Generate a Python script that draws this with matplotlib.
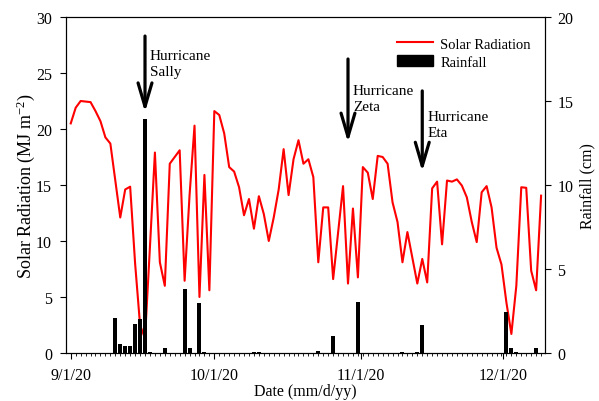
import numpy as np
import pandas as pd
import matplotlib
matplotlib.use("Agg")
import matplotlib.pyplot as plt
import matplotlib.dates as mdates
from matplotlib.lines import Line2D
from matplotlib.patches import Patch

plt.rcParams['font.family'] = ['Liberation Serif', 'DejaVu Serif']
plt.rcParams['mathtext.fontset'] = 'custom'
plt.rcParams['mathtext.rm'] = 'Liberation Serif'
plt.rcParams['mathtext.it'] = 'Liberation Serif:italic'

# daily solar radiation, 9/1/20 - 12/5/20 (MJ m-2)
start_date = '2020-09-01'
solar = [20.5, 21.9, 22.5, 22.45, 22.4, 21.6, 20.7, 19.25, 18.7, 15.4,
         12.1, 14.6, 14.85, 8.0, 2.5, 1.3, 9.5, 17.9, 8.1, 6.0,
         16.9, 17.5, 18.1, 6.45, 14.1, 20.3, 5.0, 15.9, 5.6, 21.6,
         21.25, 19.6, 16.6, 16.2, 14.8, 12.3, 13.75, 11.1, 14.0, 12.4,
         10.0, 12.1, 14.6, 18.2, 14.1, 17.3, 19.0, 16.9, 17.3, 15.7,
         8.1, 13.0, 13.0, 6.6, 10.75, 14.9, 6.2, 12.9, 6.75, 16.6,
         16.1, 13.75, 17.6, 17.5, 16.9, 13.45, 11.7, 8.1, 10.8, 8.5,
         6.2, 8.4, 6.3, 14.7, 15.3, 9.7, 15.4, 15.3, 15.5, 14.95,
         13.9, 11.7, 9.9, 14.35, 14.9, 13.0, 9.4, 7.9, 4.5, 1.7,
         6.0, 14.8, 14.75, 7.35, 5.6, 14.05]

# rainfall (cm)
rain_dates = ['2020-09-10', '2020-09-11', '2020-09-12', '2020-09-13', '2020-09-14',
              '2020-09-15', '2020-09-16', '2020-09-17', '2020-09-20', '2020-09-24',
              '2020-09-25', '2020-09-27', '2020-09-28', '2020-10-08', '2020-10-09',
              '2020-10-21', '2020-10-24', '2020-10-29', '2020-11-07', '2020-11-10',
              '2020-11-11', '2020-11-28', '2020-11-29', '2020-11-30', '2020-12-04']
rain_cm = [2.08, 0.52, 0.4, 0.4, 1.73,
           2.02, 13.93, 0.07, 0.28, 3.8,
           0.28, 3.0, 0.05, 0.05, 0.05,
           0.14, 0.99, 3.05, 0.05, 0.05,
           1.67, 2.46, 0.28, 0.07, 0.28]

# x tick labels as printed on the original chart
tick_labels = ['9/1/20', '10/1/20', '11/1/20', '12/1/20']

# hurricanes
storms = ['Sally', 'Zeta', 'Eta']
storm_dates = ['2020-09-16', '2020-10-27', '2020-11-11']
storm_top = [28.3, 26.25, 23.4]
storm_tip = [21.5, 18.8, 16.2]
label_dates = ['2020-09-17', '2020-10-28', '2020-11-12']
label_top = [27.1, 24.0, 21.7]

days = pd.date_range(start_date, periods=len(solar))
rain_days = pd.to_datetime(rain_dates)

fig = plt.figure(figsize=(5.99, 4.02), dpi=100)
ax = fig.add_axes([66/599, 48/402, 479/599, 336/402])
ax2 = ax.twinx()

ax.plot(days, solar, color='#ff0000', lw=1.5)
ax2.bar(rain_days, rain_cm, width=0.8, color='black')

ax.set_ylim(0, 30)
ax2.set_ylim(0, 20)
ax.set_xlim(days[0] - pd.Timedelta(hours=23), days[-1] + pd.Timedelta(hours=19))
ax.set_yticks([0, 5, 10, 15, 20, 25, 30])
ax2.set_yticks([0, 5, 10, 15, 20])

# the original's month labels sit slightly compressed against the daily data
tick_offsets = [0, 28.95, 58.6, 87.3]
ax.set_xticks([days[0] + pd.Timedelta(days=t) for t in tick_offsets])
ax.set_xticklabels(tick_labels)
ax.xaxis.set_minor_locator(mdates.DayLocator())

ax.tick_params(axis='both', which='major', direction='out', length=4, labelsize=11.5, pad=6)
ax.tick_params(axis='x', which='minor', direction='out', length=2.5)
ax.tick_params(axis='x', which='major', length=4, pad=6)
ax2.tick_params(axis='y', direction='out', length=4, labelsize=11.5, pad=5)

ax.set_xlabel('Date (mm/d/yy)', fontsize=11.5, labelpad=0)
ax.set_ylabel('Solar Radiation (MJ m$^{-2}$)', fontsize=13, labelpad=-1)
ax2.set_ylabel('Rainfall (cm)', fontsize=11.5, labelpad=4)

for i in range(len(storms)):
    d = pd.Timestamp(storm_dates[i])
    ax.annotate('', xy=(d, storm_tip[i]), xytext=(d, storm_top[i]),
                arrowprops=dict(arrowstyle='->,head_length=0.85,head_width=0.25',
                                lw=2.3, color='black', mutation_scale=20,
                                shrinkA=0, shrinkB=0), zorder=5)
    ax.text(pd.Timestamp(label_dates[i]), label_top[i], 'Hurricane\n' + storms[i],
            fontsize=11, va='top', ha='left', linespacing=1.3, zorder=5)

handles = [Line2D([], [], color='#ff0000', lw=1.5), Patch(color='black')]
ax2.legend(handles, ['Solar Radiation', 'Rainfall'], loc='upper left',
           bbox_to_anchor=(0.69, 0.94), frameon=False, fontsize=10.5,
           handlelength=2.5, handleheight=0.8, handletextpad=0.5,
           labelspacing=0.3, borderpad=0, borderaxespad=0)

plt.savefig('out.png', dpi=100)
